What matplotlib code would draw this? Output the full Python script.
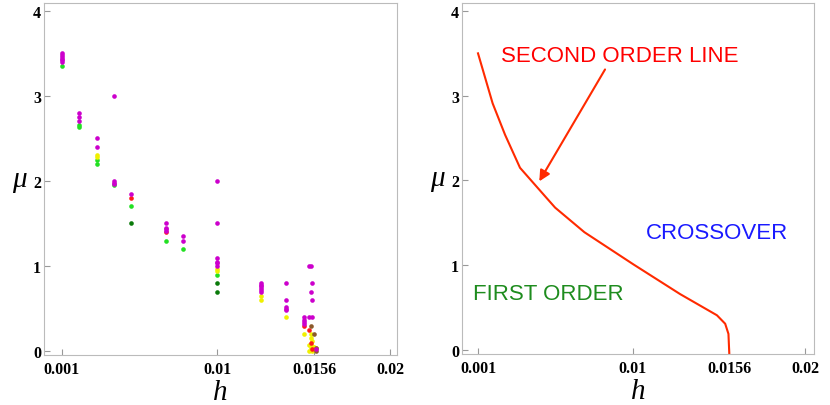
import matplotlib
matplotlib.use('Agg')
from matplotlib import pyplot as plt

# ---- left panel: simulation points, one list pair per colour ----
mag_h = [0.001]*6 + [0.002]*3 + [0.003]*2 + [0.004]*4 + [0.005] + [0.007]*4 + [0.008]*2 \
    + [0.01]*6 + [0.0125]*6 + [0.014]*5 + [0.015]*4 \
    + [0.0153, 0.0153, 0.0154, 0.0154, 0.0155, 0.0155, 0.0155, 0.0157]
mag_mu = [3.5, 3.48, 3.46, 3.44, 3.42, 3.40, 2.8, 2.75, 2.7, 2.5, 2.4, 3.0, 2.0, 1.98, 1.97, 1.85,
          1.5, 1.45, 1.43, 1.41, 1.35, 1.3, 2.0, 1.5, 1.1, 1.05, 1.03, 1.0,
          0.8, 0.78, 0.76, 0.74, 0.72, 0.7, 0.8, 0.6, 0.52, 0.5, 0.48, 0.4, 0.36, 0.34, 0.32,
          1.0, 0.4, 1.0, 0.7, 0.8, 0.6, 0.4, 0.02]

grn_h = [0.001, 0.002, 0.002, 0.003, 0.003, 0.004, 0.005, 0.007, 0.008, 0.01]
grn_mu = [3.35, 2.66, 2.63, 2.25, 2.2, 1.95, 1.7, 1.3, 1.2, 0.9]

yel_h = [0.003, 0.003, 0.01, 0.01, 0.0125, 0.0125, 0.014, 0.015,
         0.0154, 0.0154, 0.0155, 0.0153, 0.0155, 0.0154, 0.0153, 0.0156, 0.0155, 0.0156, 0.0157]
yel_mu = [2.3, 2.28, 0.96, 0.94, 0.65, 0.6, 0.4, 0.2,
          0.2, 0.15, 0.12, 0.07, 0.06, 0.03, 0.0, 0.05, 0.0, 0.01, 0.03]

red_h = [0.005, 0.007, 0.015, 0.0153, 0.0154, 0.0155]
red_mu = [1.8, 1.4, 0.3, 0.25, 0.1, 0.02]

dkg_h = [0.005, 0.01, 0.01]
dkg_mu = [1.5, 0.8, 0.7]

brn_h = [0.0154, 0.0156, 0.0157, 0.0157]
brn_mu = [0.3, 0.2, 0.04, 0.0]

# ---- right panel: second order line ----
line_h = [0.001, 0.00185, 0.00257, 0.00344, 0.0050, 0.00548, 0.00718, 0.01003,
          0.01274, 0.01488, 0.01536, 0.01555, 0.0156]
line_mu = [3.50, 2.91, 2.54, 2.15, 1.79, 1.68, 1.39, 1.01, 0.66, 0.41, 0.31, 0.19, -0.05]

xticks = [0.001, 0.01, 0.0156, 0.02]
xticklabels = ['0.001', '0.01', '0.0156', '0.02']
yticks = [0, 1, 2, 3, 4]

fig = plt.figure(figsize=(8.3, 4.06), dpi=100)
ax1 = fig.add_axes([44/830, 1-356/406, 353/830, 352/406])
ax2 = fig.add_axes([462/830, 1-355/406, 352/830, 351/406])

tickfont = dict(family='Liberation Serif', weight='bold', size=11.5)
labfont = dict(family='Liberation Serif', style='italic', size=21)

def style(ax, xlim):
    ax.set_xlim(*xlim)
    ax.set_ylim(-0.047, 4.094)
    ax.set_xticks(xticks)
    ax.set_xticklabels(xticklabels, fontdict=tickfont)
    ax.set_yticks(yticks)
    ax.set_yticklabels([str(t) for t in yticks], fontdict=tickfont)
    for s in ax.spines.values():
        s.set_color('#bbbbbb')
    ax.tick_params(direction='in', length=4, color='#999999', width=0.8)
    ax.tick_params(axis='x', pad=4)
    ax.tick_params(axis='y', pad=2)
    ax.set_xlabel('h', fontdict=labfont, labelpad=2)
    ax.set_ylabel('μ', fontdict=labfont, rotation=0, labelpad=10, va='center')

ms = 11
ax1.scatter(grn_h, grn_mu, s=ms, color='#22e022', lw=0, zorder=3)
ax1.scatter(yel_h, yel_mu, s=ms, color='#f0f000', lw=0, zorder=3)
ax1.scatter(red_h, red_mu, s=ms, color='#ff1a1a', lw=0, zorder=4)
ax1.scatter(dkg_h, dkg_mu, s=ms, color='#0a7a0a', lw=0, zorder=3)
ax1.scatter(brn_h, brn_mu, s=ms, color='#8b5a2b', lw=0, zorder=4)
ax1.scatter(mag_h, mag_mu, s=ms, color='#cc00cc', lw=0, zorder=5)
style(ax1, (-0.00004, 0.0204))

ax2.plot(line_h, line_mu, color='#ff2a00', lw=1.5, clip_on=True)
ax2.annotate('', xy=(0.00456, 1.99), xytext=(0.00838, 3.31),
             arrowprops=dict(arrowstyle='-|>', color='#ff2a00', lw=1.5,
                             mutation_scale=16, shrinkA=0, shrinkB=0))
ax2.text(0.00926, 3.48, 'SECOND ORDER LINE', color='#ff0000', ha='center', va='center',
         family='Liberation Sans', size=16)
ax2.text(0.01488, 1.39, 'CROSSOVER', color='#1a1aff', ha='center', va='center',
         family='Liberation Sans', size=16)
ax2.text(0.00509, 0.67, 'FIRST ORDER', color='#1e8c1e', ha='center', va='center',
         family='Liberation Sans', size=16)
style(ax2, (0.00007, 0.02052))

fig.savefig('out.png', dpi=100)
